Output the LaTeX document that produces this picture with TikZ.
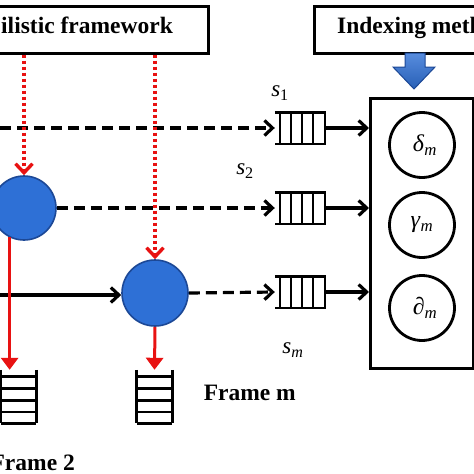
\documentclass[tikz,border=0pt]{standalone}
\usepackage{fontspec}
\setmainfont{Liberation Serif}
\usetikzlibrary{arrows.meta,calc}
\definecolor{blobblue}{RGB}{46,112,214}
\definecolor{blobedge}{RGB}{28,72,150}
\definecolor{arrowred}{RGB}{232,18,18}
\newcommand\sym[2]{\textit{#1}\textsubscript{#2}}

\begin{document}
\begin{tikzpicture}[x=1pt,y=-1pt,
    box/.style={draw,line width=3pt,inner sep=0pt},
    lbl/.style={font=\bfseries\fontsize{23.5}{27}\selectfont,inner sep=0pt},
    slbl/.style={font=\fontsize{23}{27}\selectfont,inner sep=0pt},
    blob/.style={circle,draw=blobedge,fill=blobblue,line width=1.6pt,inner sep=0pt,minimum size=64pt},
    ring/.style={circle,draw,line width=2.8pt,inner sep=0pt,minimum size=65pt,font=\fontsize{24}{28}\selectfont},
    queue/.style={minimum width=50pt,minimum height=31pt,inner sep=0pt},
    frames/.style={minimum width=35pt,minimum height=53pt,inner sep=0pt},
    flow/.style={line width=3.2pt,-{Straight Barb[length=8pt,width=15pt]}},
    feed/.style={flow,dash pattern=on 11pt off 6pt},
    hint/.style={draw=arrowred,line width=3.4pt,dash pattern=on 3pt off 3pt,-{Straight Barb[length=9pt,width=17pt]}},
    drop/.style={draw=arrowred,line width=3pt,-{Triangle[length=12pt,width=17pt]}}]
\useasboundingbox (0,0) rectangle (474,474);
\clip (0,0) rectangle (474,474);

% top boxes
\node (prob) [box,minimum width=460pt,minimum height=46.5pt,anchor=north east] at (210,5) {};
\node (problbl) [lbl,anchor=base west] at (1,33) {ilistic framework};
\node (idx) [box,minimum width=300pt,minimum height=46.5pt,anchor=north west] at (313,5) {};
\node (idxlbl) [lbl,anchor=base west] at (337,33) {Indexing meth};
\path[draw=blobedge,line width=1pt,top color=blobblue!80!white,bottom color=blobblue!85!black]
    (405,53) -- (425,53) -- (425,67) -- (435,67) -- (414,89) -- (393,67) -- (405,67) -- cycle;

% indexing block
\node (engine) [box,minimum width=103pt,minimum height=270pt,anchor=north west] at (369,97) {};
\node (delta) [ring] at (422,145) {\hspace{6pt}\sym{δ}{\textit{m}}};
\node (gamma) [ring] at (422,225) {\raisebox{-4pt}{\sym{γ}{\textit{m}}}};
\node (part) [ring] at (422,308) {\hspace{6pt}\sym{∂}{\textit{m}}};

% blobs
\node (c1) [blob] at (24,208) {};
\node (c2) [blob,minimum size=66pt] at (155,293) {};

% queues
\foreach \n/\y in {q1/128,q2/208,q3/292}
    \node (\n) [queue] at (300,\y) {};
\foreach \n in {q1,q2,q3} {
    \draw[line width=2.4pt] (\n.north west) -- (\n.north east) -- (\n.south east) -- (\n.south west);
    \foreach \f in {0.1,0.32,0.54,0.76}
        \draw[line width=2.4pt] ($(\n.north west)!\f!(\n.north east)$) -- ($(\n.south west)!\f!(\n.south east)$);
    \draw[flow] (\n.east) -- (\n.east -| engine.west);
}

% frame stacks
\node (st1) [frames] at (18.5,396.5) {};
\node (st2) [frames] at (154.5,396.5) {};
\foreach \n in {st1,st2} {
    \draw[line width=2.8pt] (\n.north west) -- (\n.south west) (\n.north east) -- (\n.south east);
    \foreach \f in {0.13,0.35,0.57,0.79,1}
        \draw[line width=2.6pt] ($(\n.north west)!\f!(\n.south west)$) -- ($(\n.north east)!\f!(\n.south east)$);
}

% flows
\coordinate (start1) at (0,128);
\coordinate (start3) at (0,295);
\draw[feed] (start1) -- (q1.west);
\draw[feed] (c1.east) -- (q2.west);
\draw[feed] (c2.east) -- (q3.west);
\draw[flow] (start3) -- (c2.west |- start3);
\draw[hint] (c1.north |- prob.south) -- (c1.north);
\draw[hint] (c2.north |- prob.south) -- (c2.north);
\draw[drop] (c1.244) -- (c1.244 |- st1.north);
\draw[drop] (c2.south) -- (st2.north);

% labels
\node (s1) [slbl] at (280,93) {\sym{s}{1}};
\node (s2) [slbl] at (245,171) {\sym{s}{2}};
\node (sm) [slbl] at (293,350) {\sym{s}{\textit{m}}};
\node (fm) [lbl,anchor=base east] at (296,400) {Frame m};
\node (f2) [lbl,anchor=base east] at (75,470) {Frame 2};
\end{tikzpicture}
\end{document}
